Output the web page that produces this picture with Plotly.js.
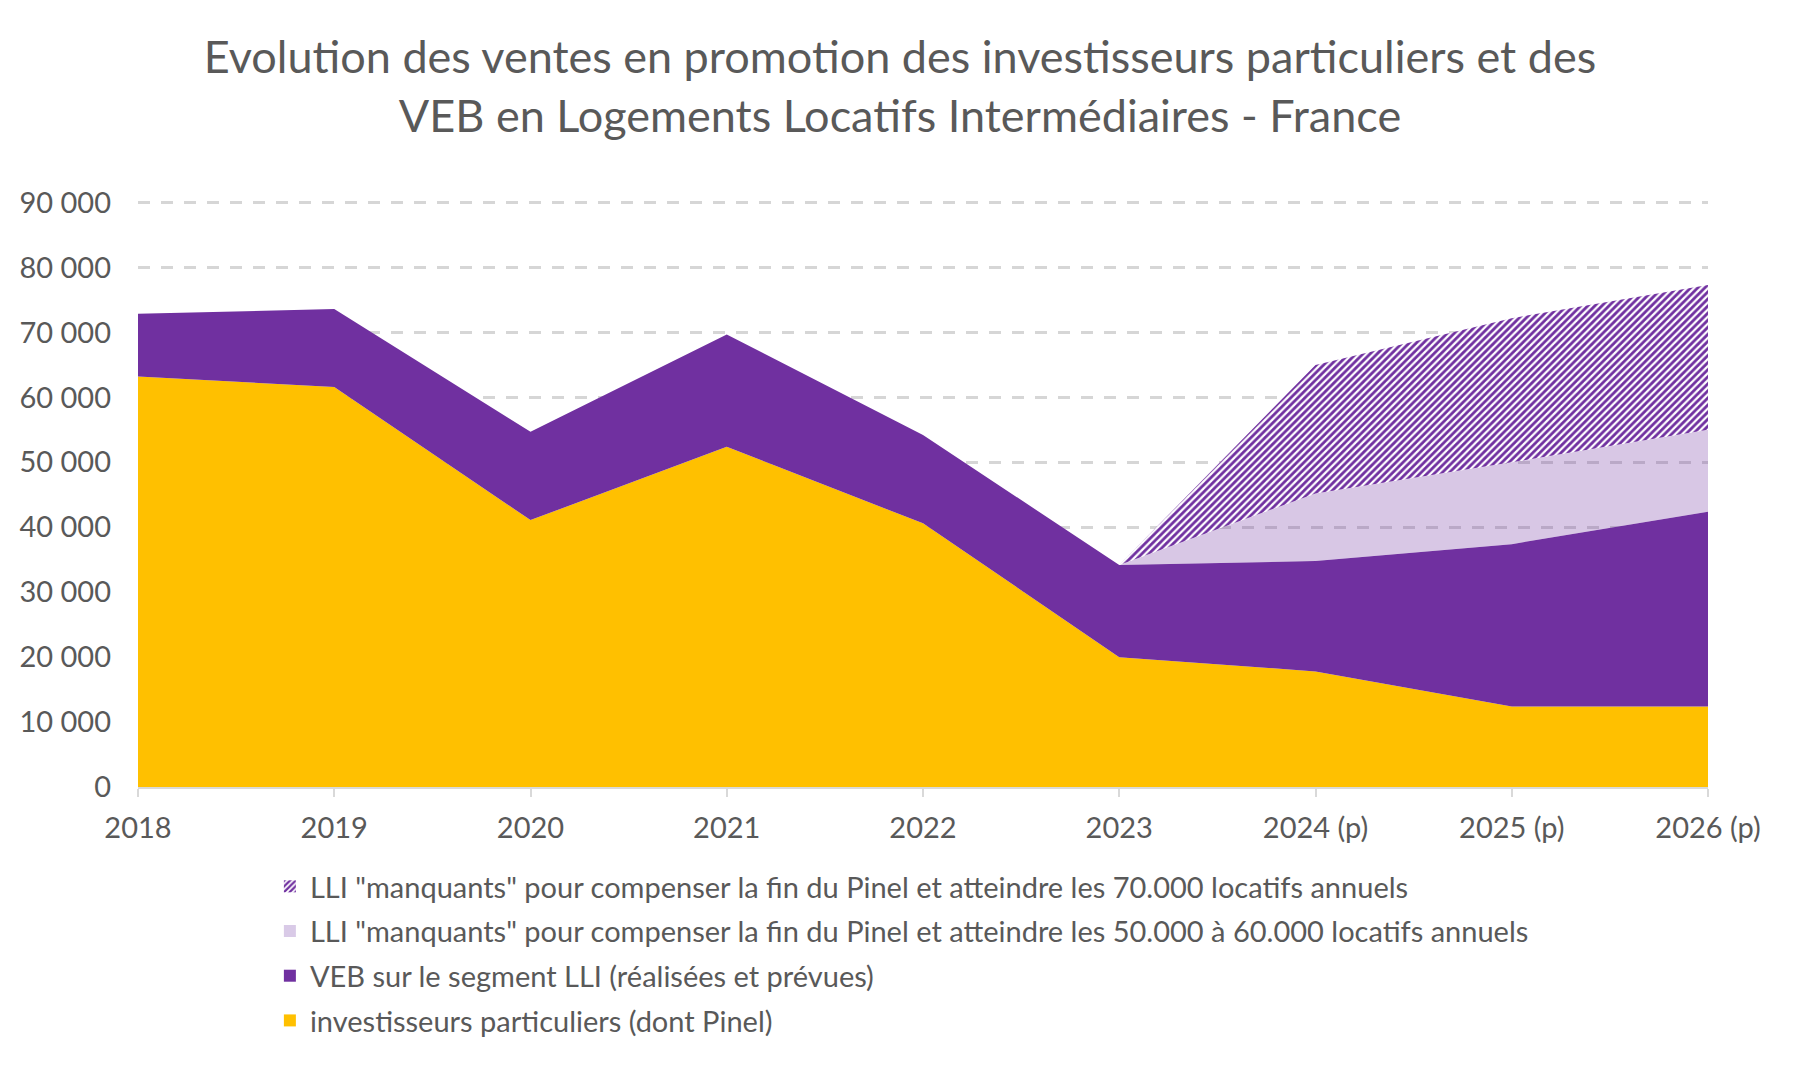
<!DOCTYPE html>
<html>
<head>
<meta charset="utf-8">
<script src="https://cdn.plot.ly/plotly-3.0.1.min.js"></script>
<style>html,body{margin:0;padding:0;background:#fff;}#chart{width:1800px;height:1070px;}</style>
</head>
<body>
<div id="chart"></div>
<script>
const years = ["2018", "2019", "2020", "2021", "2022", "2023", "2024 (p)", "2025 (p)", "2026 (p)"];
const investisseurs = [63200, 61600, 41100, 52400, 40600, 20000, 17800, 12400, 12400];
const veb = [9700, 12000, 13600, 17300, 13600, 14200, 17000, 25000, 30000];
const manquants5060 = [0, 0, 0, 0, 0, 0, 10400, 12600, 12600];
const manquants70 = [0, 0, 0, 0, 0, 0, 19800, 22200, 22300];

const names = {
  inv: "investisseurs particuliers (dont Pinel)",
  veb: "VEB sur le segment LLI (réalisées et prévues)",
  m5060: "LLI \"manquants\" pour compenser la fin du Pinel et atteindre les 50.000 à 60.000 locatifs annuels",
  m70: "LLI \"manquants\" pour compenser la fin du Pinel et atteindre les 70.000 locatifs annuels"
};

const FONT = "Lato, 'Open Sans', sans-serif";
const GREY = "#595959";
const YELLOW = "#FFC000";
const PURPLE = "#7030A0";
const LAVENDER = "rgba(112,48,160,0.27)";
const HATCH = {shape: "/", fgcolor: PURPLE, bgcolor: "#ffffff", size: 5, solidity: 0.55};

// stacked areas (no legend)
const areas = [
  {x: years, y: investisseurs, name: names.inv, fillcolor: YELLOW},
  {x: years, y: veb, name: names.veb, fillcolor: PURPLE},
  {x: years, y: manquants5060, name: names.m5060, fillcolor: LAVENDER},
  {x: years, y: manquants70, name: names.m70, fillcolor: PURPLE, fillpattern: HATCH}
].map(t => Object.assign({type: "scatter", mode: "none", stackgroup: "a", line: {width: 0},
                          showlegend: false, hoverinfo: "skip"}, t));

// legend proxies (square swatches)
const legendProxies = [
  {name: names.inv, marker: {color: YELLOW}, legendrank: 4},
  {name: names.veb, marker: {color: PURPLE}, legendrank: 3},
  {name: names.m5060, marker: {color: "#D9CAE7"}, legendrank: 2},
  {name: names.m70, marker: {color: "#ffffff", pattern: {shape: "/", fgcolor: PURPLE, bgcolor: "#ffffff", size: 5, solidity: 0.55}}, legendrank: 1}
].map((t, i) => Object.assign({type: "bar", x: [years[0]], y: [null], showlegend: true,
                               legendgroup: "g" + i, hoverinfo: "skip"}, t));
legendProxies.forEach(t => { t.marker.line = {width: 0}; });

const layout = {
  width: 1800, height: 1070,
  paper_bgcolor: "#ffffff", plot_bgcolor: "#ffffff",
  separators: ", ",
  margin: {l: 138, r: 92, t: 200, b: 283},
  title: {
    text: "Evolution des ventes en promotion des investisseurs particuliers et des<br>VEB en Logements Locatifs Intermédiaires - France",
    font: {family: FONT, size: 45, color: GREY},
    x: 0.5, xanchor: "center", y: 1 - 73 / 1070, yanchor: "middle", xref: "container", yref: "container"
  },
  xaxis: {
    type: "category", range: [0, 8],
    showgrid: false, showline: true, linecolor: "#d9d9d9", linewidth: 2,
    ticks: "outside", ticklen: 8, tickcolor: "#d9d9d9", tickwidth: 2,
    tickfont: {family: FONT, size: 29, color: GREY}, ticklabelstandoff: 6
  },
  yaxis: {
    range: [0, 90400], dtick: 10000, tick0: 0, tickformat: ",d",
    showgrid: true, gridcolor: "#d6d6d6", gridwidth: 2.5, griddash: "12px,11px",
    zeroline: false, showline: false, ticks: "",
    tickfont: {family: FONT, size: 29, color: GREY}, ticklabelstandoff: 26
  },
  showlegend: true,
  legend: {
    orientation: "v", traceorder: "grouped",
    x: 0.084, xanchor: "left", y: -0.126, yanchor: "top",
    font: {family: FONT, size: 29, color: GREY},
    itemwidth: 30, tracegroupgap: 4, bgcolor: "rgba(0,0,0,0)"
  },
  barmode: "overlay"
};

Plotly.newPlot("chart", areas.concat(legendProxies), layout, {displayModeBar: false, staticPlot: true});
</script>
</body>
</html>
